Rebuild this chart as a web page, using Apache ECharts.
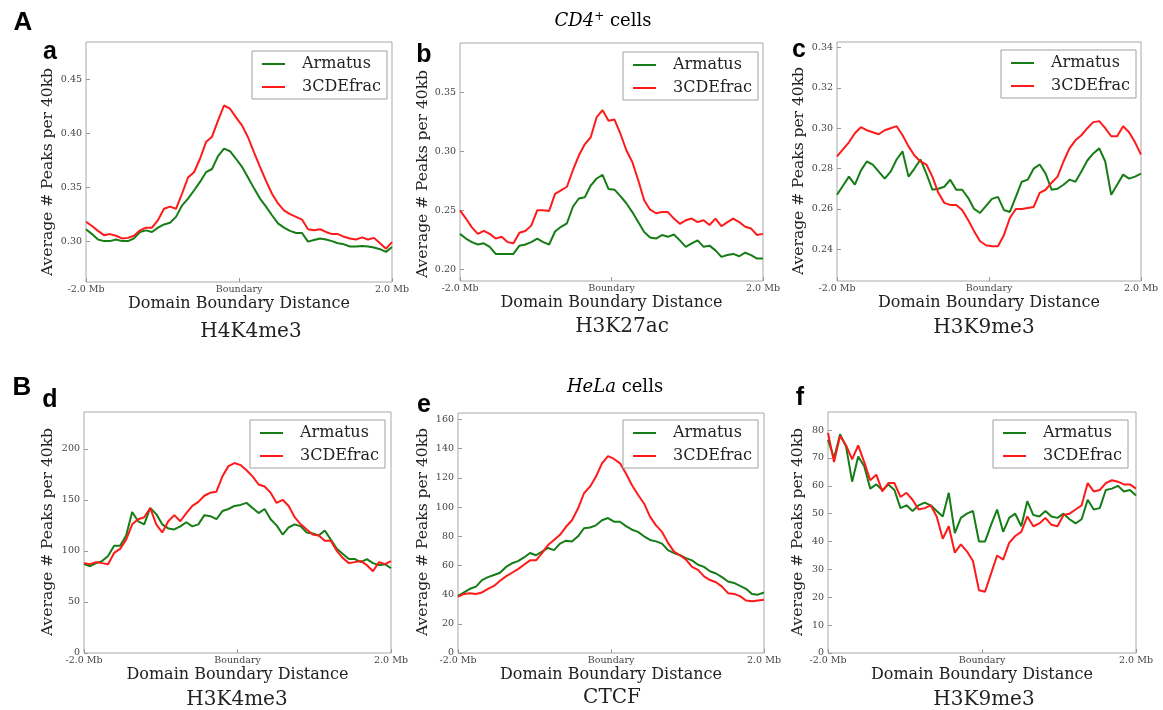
<!DOCTYPE html>
<html>
<head>
<meta charset="utf-8">
<script src="https://cdn.jsdelivr.net/npm/echarts@6/dist/echarts.min.js"></script>
<style>
html,body{margin:0;padding:0;background:#fff;}
#chart{width:1163px;height:710px;}
</style>
</head>
<body>
<div id="chart"></div>
<script>
// ---------- data ----------
const seriesNames = ['Armatus', '3CDEfrac'];
const xTickValues = [-2, 0, 2];
const xTickLabels = ['-2.0 Mb', 'Boundary', '2.0 Mb'];
const xTitle = 'Domain Boundary Distance';
const yTitle = 'Average # Peaks per 40kb';
const markNames = ['H4K4me3', 'H3K27ac', 'H3K9me3', 'H3K4me3', 'CTCF', 'H3K9me3'];
const panelLetters = ['a', 'b', 'c', 'd', 'e', 'f'];

const aTicks = [0.30, 0.35, 0.40, 0.45];
const bTicks = [0.20, 0.25, 0.30, 0.35];
const cTicks = [0.24, 0.26, 0.28, 0.30, 0.32, 0.34];
const dTicks = [0, 50, 100, 150, 200];
const eTicks = [0, 20, 40, 60, 80, 100, 120, 140, 160];
const fTicks = [0, 10, 20, 30, 40, 50, 60, 70, 80];

const aArmatus = [0.311,0.3065,0.3015,0.300,0.300,0.3015,0.300,0.300,0.3025,0.3085,0.310,0.3085,0.3125,0.3155,0.317,0.3225,0.333,0.3395,0.347,0.355,0.364,0.367,0.379,0.386,0.3835,0.3765,0.369,0.359,0.349,0.3395,0.332,0.324,0.3165,0.3125,0.3095,0.3075,0.3075,0.2995,0.301,0.3025,0.3015,0.300,0.298,0.297,0.295,0.295,0.2955,0.295,0.294,0.2925,0.290,0.2945];
const a3CDEfrac = [0.318,0.314,0.3095,0.3055,0.3065,0.305,0.3025,0.303,0.305,0.310,0.3125,0.3125,0.3195,0.330,0.332,0.330,0.344,0.359,0.364,0.3765,0.392,0.397,0.412,0.426,0.423,0.415,0.4075,0.3965,0.3825,0.369,0.356,0.344,0.335,0.3285,0.325,0.3225,0.320,0.311,0.310,0.311,0.3085,0.3065,0.3065,0.304,0.3025,0.3015,0.3035,0.3015,0.303,0.298,0.293,0.299];

const bArmatus = [0.230,0.226,0.223,0.221,0.222,0.219,0.213,0.213,0.213,0.213,0.220,0.221,0.223,0.226,0.223,0.221,0.232,0.236,0.239,0.253,0.260,0.261,0.271,0.277,0.280,0.268,0.2675,0.262,0.256,0.2485,0.240,0.2315,0.227,0.226,0.229,0.2275,0.2295,0.2245,0.219,0.222,0.2245,0.219,0.220,0.216,0.2105,0.212,0.213,0.211,0.214,0.212,0.209,0.209];
const b3CDEfrac = [0.250,0.243,0.2355,0.230,0.2325,0.230,0.226,0.2275,0.223,0.222,0.231,0.2325,0.237,0.250,0.250,0.2495,0.264,0.267,0.270,0.284,0.2965,0.306,0.312,0.329,0.335,0.326,0.327,0.315,0.301,0.291,0.2755,0.2585,0.2505,0.2475,0.2485,0.2485,0.243,0.2385,0.2415,0.243,0.240,0.2415,0.2375,0.243,0.2365,0.240,0.243,0.240,0.236,0.2345,0.229,0.230];

const cArmatus = [0.267,0.2715,0.276,0.272,0.279,0.2835,0.282,0.2785,0.275,0.2785,0.2845,0.2885,0.276,0.280,0.2845,0.2775,0.2695,0.270,0.271,0.2745,0.2695,0.2695,0.2655,0.260,0.258,0.2615,0.265,0.266,0.2595,0.2585,0.266,0.2735,0.2745,0.280,0.282,0.2775,0.2695,0.270,0.272,0.2745,0.2735,0.2785,0.284,0.2875,0.290,0.2835,0.267,0.272,0.277,0.275,0.276,0.2775];
const c3CDEfrac = [0.286,0.2895,0.293,0.2975,0.3005,0.299,0.298,0.297,0.299,0.300,0.301,0.2965,0.291,0.2865,0.2835,0.282,0.276,0.268,0.263,0.262,0.262,0.2595,0.2545,0.249,0.244,0.242,0.2415,0.2415,0.247,0.2555,0.260,0.260,0.2605,0.261,0.268,0.2695,0.273,0.276,0.2835,0.290,0.294,0.2965,0.300,0.303,0.3035,0.300,0.296,0.296,0.301,0.298,0.293,0.287];

const dArmatus = [87,85,88,90,95,105,105,115,138,129,126,142,136,126,122,121,124,128,124,126,135,134,131,139,141,144,145,147,142,137,141,131,125,116,123,126,124,118,117,115,120,111,102,97,92,92,89,92,88,86,87,83];
const d3CDEfrac = [88,87,89,88,87,98,102,111,126,131,133,142,126,118,129,135,129,137,144,148,154,157,158,173,183,186,184,179,173,165,163,157,147,150,144,133,126,121,116,115,110,110,100,93,88,89,90,86,80,89,87,90];

const eArmatus = [39,41.5,44,45.5,50,52,53.5,55,59,61.5,63,65.5,68.5,67,69.5,72,70.5,75,77,76.5,80,85.5,86,87.5,91,92.5,90,90,87,84.5,83,80,77.5,76.5,75,70.5,68.5,67,65,63.5,60.5,59,56,54.5,52,49,48,46,44,40.5,40,41.5];
const e3CDEfrac = [38.5,40.5,41,40.5,41.5,44,46,49.5,52.5,55,57.5,60.5,63.5,63.5,68.5,74,77.5,81,86.5,91,99,109.5,114,121,130,135,133,130,123,115,108.5,102.5,93.5,87.5,83,75.5,69.5,67,64,59,57,52.5,50,48.5,45.5,41,40.5,39,36,35.5,36,36.5];

const fArmatus = [76.5,70,78.5,74,61.5,70.5,67,59,60.5,58.5,60.5,58.5,52,53,51,53,54,53,51,49,57.5,43,48.5,50,51,40,40,46,51.5,43.5,48.5,50,45.5,54.5,49.5,49,51,49,48.5,50,48,46.5,48,55,51.5,52,58.5,59,60,58,58.5,56.5];
const f3CDEfrac = [79,68.5,78,74.5,69.5,74.5,68.5,62,64,58,61,61,56,57.5,55,51.5,52,53,49,41,45.5,36,39,36.5,33,22.5,22,28.5,35,33.5,39.5,42,43.5,49,45.5,46.5,48.5,46,45.5,49.5,50,51.5,53,61,58,58.5,61,62,61.5,60.5,60.5,59];

// ---------- layout / style ----------
const SERIF = 'DejaVu Serif';
const SANS = 'Liberation Sans';
const GREEN = '#167d16';
const RED = '#ff1a1a';

const panels = [
  {arm:aArmatus, cde:a3CDEfrac, ticks:aTicks, dec:2, yMin:0.262, yMax:0.485, grid:{left:86,top:42,width:306,height:240}, leg:{left:252,top:51}, yt:[48,172], sub:[251,332], let:[50,52]},
  {arm:bArmatus, cde:b3CDEfrac, ticks:bTicks, dec:2, yMin:0.190, yMax:0.392, grid:{left:460,top:43,width:303,height:238}, leg:{left:623,top:52}, yt:[423,174], sub:[622,327], let:[424,55]},
  {arm:cArmatus, cde:c3CDEfrac, ticks:cTicks, dec:2, yMin:0.2243, yMax:0.3427, grid:{left:837,top:42,width:304,height:239}, leg:{left:1001,top:50}, yt:[799,171], sub:[984,328], let:[799,50]},
  {arm:dArmatus, cde:d3CDEfrac, ticks:dTicks, dec:0, yMin:0, yMax:236, grid:{left:84,top:412,width:307,height:241}, leg:{left:250,top:420}, yt:[48,532], sub:[237,700], let:[50,400]},
  {arm:eArmatus, cde:e3CDEfrac, ticks:eTicks, dec:0, yMin:0, yMax:164.5, grid:{left:458,top:413,width:306,height:240}, leg:{left:623,top:420}, yt:[423,532], sub:[612,698], let:[424,405]},
  {arm:fArmatus, cde:f3CDEfrac, ticks:fTicks, dec:0, yMin:0, yMax:86.5, grid:{left:828,top:412,width:308,height:241}, leg:{left:993,top:420}, yt:[798,532], sub:[984,700], let:[800,398]}
];

function toXY(vals) {
  const n = vals.length;
  return vals.map((v, i) => [-2 + 4 * i / (n - 1), v]);
}

const grids = [], xAxes = [], yAxes = [], series = [], legends = [], graphics = [];

panels.forEach((p, i) => {
  grids.push(Object.assign({show:true, borderColor:'#a8a8a8', borderWidth:1, backgroundColor:'transparent'}, p.grid));
  xAxes.push({
    type:'value', gridIndex:i, min:-2, max:2, position:'bottom',
    axisLine:{show:false, onZero:false}, splitLine:{show:false},
    axisTick:{show:true, inside:true, length:4, customValues:xTickValues, lineStyle:{color:'#999'}},
    axisLabel:{customValues:xTickValues, formatter:(v) => xTickLabels[xTickValues.indexOf(v)], fontFamily:SERIF, fontSize:9.5, color:'#444', margin:3},
    name:xTitle, nameLocation:'middle', nameGap:13,
    nameTextStyle:{fontFamily:SERIF, fontSize:16, color:'#222'}
  });
  yAxes.push({
    type:'value', gridIndex:i, min:p.yMin, max:p.yMax, position:'left',
    axisLine:{show:false, onZero:false}, splitLine:{show:false},
    axisTick:{show:true, inside:true, length:4, customValues:p.ticks, lineStyle:{color:'#999'}},
    axisLabel:{customValues:p.ticks, formatter:(v) => v.toFixed(p.dec), fontFamily:SERIF, fontSize:9.5, color:'#444', margin:4}
  });
  series.push({
    type:'line', name:seriesNames[0], xAxisIndex:i, yAxisIndex:i, data:toXY(p.arm),
    showSymbol:false, symbol:'none', lineStyle:{width:2, color:GREEN}, itemStyle:{color:GREEN}, animation:false, z:2
  });
  series.push({
    type:'line', name:seriesNames[1], xAxisIndex:i, yAxisIndex:i, data:toXY(p.cde),
    showSymbol:false, symbol:'none', lineStyle:{width:2, color:RED}, itemStyle:{color:RED}, animation:false, z:3
  });
  legends.push({
    data:seriesNames, orient:'vertical', left:p.leg.left, top:p.leg.top,
    backgroundColor:'#fff', borderColor:'#a0a0a0', borderWidth:1,
    padding:[4,6,3,10], itemGap:5, itemWidth:23, itemHeight:2, icon:'rect',
    selectedMode:false,
    textStyle:{fontFamily:SERIF, fontSize:16, color:'#222', lineHeight:18, padding:[0,0,0,12]}
  });
  graphics.push({type:'text', x:p.yt[0], y:p.yt[1], rotation:Math.PI/2,
    style:{text:yTitle, fontFamily:SERIF, fontSize:15.5, fill:'#222', textAlign:'center', textVerticalAlign:'middle'}});
  graphics.push({type:'text', x:p.sub[0], y:p.sub[1],
    style:{text:markNames[i], fontFamily:SERIF, fontSize:20, fill:'#222', textAlign:'center', textVerticalAlign:'middle'}});
  graphics.push({type:'text', x:p.let[0], y:p.let[1],
    style:{text:panelLetters[i], fontFamily:SANS, fontWeight:'bold', fontSize:25, fill:'#000', textAlign:'center', textVerticalAlign:'middle'}});
});

graphics.push({type:'text', x:23, y:23, style:{text:'A', fontFamily:SANS, fontWeight:'bold', fontSize:26, fill:'#000', textAlign:'center', textVerticalAlign:'middle'}});
graphics.push({type:'text', x:22, y:388, style:{text:'B', fontFamily:SANS, fontWeight:'bold', fontSize:26, fill:'#000', textAlign:'center', textVerticalAlign:'middle'}});

graphics.push({type:'text', x:603, y:21, style:{
  text:'{i|CD4}{s|+}{n| cells}', textAlign:'center', textVerticalAlign:'middle',
  rich:{
    i:{fontFamily:SERIF, fontStyle:'italic', fontSize:18, color:'#222'},
    s:{fontFamily:SERIF, fontSize:12, color:'#222', verticalAlign:'top', padding:[0,0,8,0]},
    n:{fontFamily:SERIF, fontSize:18, color:'#222'}
  }}});
graphics.push({type:'text', x:615, y:387, style:{
  text:'{i|HeLa}{n| cells}', textAlign:'center', textVerticalAlign:'middle',
  rich:{
    i:{fontFamily:SERIF, fontStyle:'italic', fontSize:18, color:'#222'},
    n:{fontFamily:SERIF, fontSize:18, color:'#222'}
  }}});

const chart = echarts.init(document.getElementById('chart'), null, {renderer:'canvas'});
chart.setOption({
  backgroundColor:'#fff',
  animation:false,
  grid:grids, xAxis:xAxes, yAxis:yAxes, series:series, legend:legends, graphic:graphics
});
</script>
</body>
</html>
